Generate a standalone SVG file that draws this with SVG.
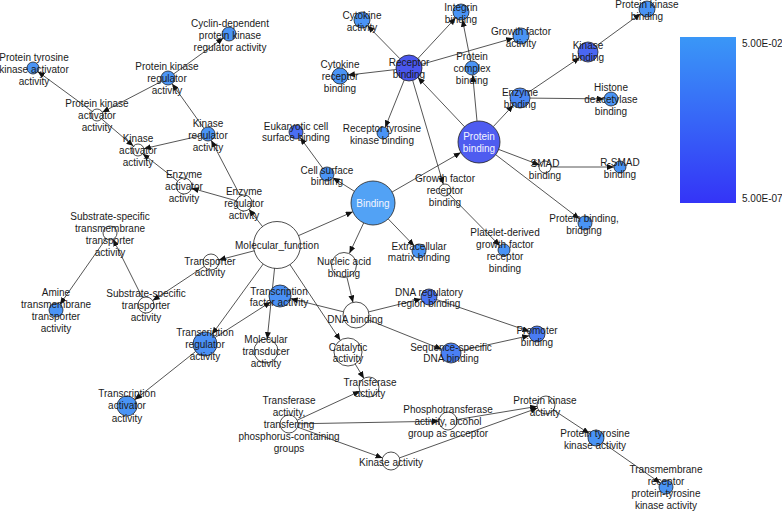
<svg xmlns="http://www.w3.org/2000/svg" width="782" height="511" viewBox="0 0 782 511">
<style>
.e{stroke:#2a2a2a;stroke-width:0.8;fill:none;marker-end:url(#ah)}
.n{stroke:#222;stroke-width:0.8}
.w{fill:#fff}
.l{fill:#4a94f5}
text{font-family:"Liberation Sans",Arial,sans-serif;font-size:10px;fill:#1a1a1a;text-anchor:middle}
.wt{fill:#f4f6ff}
.lg{text-anchor:start}
</style>
<defs>
<marker id="ah" markerUnits="userSpaceOnUse" markerWidth="8" markerHeight="6" refX="7" refY="3" orient="auto">
<path d="M0,0 L7,3 L0,6 z" fill="#111"/>
</marker>
<linearGradient id="grad" x1="0" y1="0" x2="0" y2="1">
<stop offset="0" stop-color="#3a97f7"/>
<stop offset="1" stop-color="#3434f7"/>
</linearGradient>
</defs>
<rect width="782" height="511" fill="#fff"/>
<g id="connectors">
<line class="e" x1="298.1" y1="235.8" x2="352.8" y2="211.8"/>
<line class="e" x1="262.8" y1="226.9" x2="248.9" y2="209.3"/>
<line class="e" x1="254.7" y1="250.7" x2="218.7" y2="260.0"/>
<line class="e" x1="263.5" y1="263.6" x2="212.1" y2="334.3"/>
<line class="e" x1="274.6" y1="267.9" x2="267.2" y2="339.1"/>
<line class="e" x1="289.7" y1="264.2" x2="340.3" y2="340.3"/>
<line class="e" x1="240.3" y1="195.9" x2="211.2" y2="140.2"/>
<line class="e" x1="236.3" y1="200.8" x2="191.7" y2="188.2"/>
<line class="e" x1="203.9" y1="128.3" x2="172.1" y2="83.7"/>
<line class="e" x1="201.2" y1="135.6" x2="143.9" y2="148.7"/>
<line class="e" x1="177.7" y1="181.1" x2="142.7" y2="153.7"/>
<line class="e" x1="173.7" y1="73.9" x2="223.3" y2="38.1"/>
<line class="e" x1="161.8" y1="81.2" x2="102.3" y2="112.2"/>
<line class="e" x1="92.2" y1="111.4" x2="37.8" y2="71.6"/>
<line class="e" x1="101.6" y1="118.9" x2="133.4" y2="146.1"/>
<line class="e" x1="204.3" y1="266.4" x2="152.7" y2="300.6"/>
<line class="e" x1="142.4" y1="297.8" x2="113.1" y2="239.3"/>
<line class="e" x1="106.0" y1="238.7" x2="60.0" y2="304.3"/>
<line class="e" x1="195.6" y1="351.5" x2="134.8" y2="399.8"/>
<line class="e" x1="215.1" y1="337.5" x2="270.7" y2="301.9"/>
<line class="e" x1="343.4" y1="311.8" x2="290.7" y2="298.7"/>
<line class="e" x1="354.4" y1="191.3" x2="332.9" y2="177.7"/>
<line class="e" x1="363.7" y1="222.9" x2="349.5" y2="253.2"/>
<line class="e" x1="388.2" y1="218.9" x2="414.2" y2="245.9"/>
<line class="e" x1="392.1" y1="192.0" x2="460.8" y2="152.5"/>
<line class="e" x1="322.8" y1="168.4" x2="300.2" y2="137.6"/>
<line class="e" x1="347.0" y1="277.6" x2="353.0" y2="302.4"/>
<line class="e" x1="368.6" y1="311.9" x2="421.2" y2="298.9"/>
<line class="e" x1="368.1" y1="319.8" x2="441.7" y2="349.3"/>
<line class="e" x1="436.6" y1="299.6" x2="529.4" y2="331.4"/>
<line class="e" x1="460.8" y1="350.8" x2="529.2" y2="335.7"/>
<line class="e" x1="464.6" y1="126.8" x2="417.9" y2="77.4"/>
<line class="e" x1="477.0" y1="121.1" x2="472.7" y2="75.0"/>
<line class="e" x1="493.3" y1="126.6" x2="513.2" y2="105.3"/>
<line class="e" x1="498.6" y1="149.4" x2="539.4" y2="164.9"/>
<line class="e" x1="495.7" y1="154.7" x2="579.4" y2="218.8"/>
<line class="e" x1="396.1" y1="69.5" x2="347.9" y2="75.1"/>
<line class="e" x1="399.9" y1="58.7" x2="367.6" y2="25.7"/>
<line class="e" x1="417.9" y1="58.5" x2="455.6" y2="17.9"/>
<line class="e" x1="421.5" y1="64.4" x2="513.3" y2="38.2"/>
<line class="e" x1="404.2" y1="80.1" x2="385.2" y2="127.4"/>
<line class="e" x1="412.7" y1="80.5" x2="443.3" y2="184.2"/>
<line class="e" x1="470.6" y1="61.1" x2="462.5" y2="19.8"/>
<line class="e" x1="449.2" y1="194.3" x2="499.8" y2="245.7"/>
<line class="e" x1="528.3" y1="92.4" x2="579.7" y2="57.6"/>
<line class="e" x1="530" y1="98.1" x2="604" y2="98.9"/>
<line class="e" x1="596.1" y1="46.1" x2="640.5" y2="13.7"/>
<line class="e" x1="551" y1="167" x2="614" y2="167"/>
<line class="e" x1="355.2" y1="364.0" x2="363.9" y2="378.4"/>
<line class="e" x1="297.2" y1="420.2" x2="359.9" y2="391.2"/>
<line class="e" x1="298" y1="423.8" x2="439" y2="421.2"/>
<line class="e" x1="297.5" y1="427.1" x2="382.5" y2="457.9"/>
<line class="e" x1="456.9" y1="419.6" x2="537.1" y2="406.4"/>
<line class="e" x1="399.5" y1="457.9" x2="537.5" y2="408.1"/>
<line class="e" x1="553.5" y1="410.0" x2="589.3" y2="433.6"/>
<line class="e" x1="602.6" y1="442.6" x2="660.3" y2="483.0"/>
</g>
<g id="n_ptkaa"><circle class="n l" cx="33" cy="68" r="6"/><text><tspan x="34" y="60.5">Protein tyrosine</tspan><tspan x="34" y="72.5">kinase activator</tspan><tspan x="34" y="84.5">activity</tspan></text></g>
<g id="n_pkra"><circle class="n l" cx="168" cy="78" r="7"/><text><tspan x="167" y="69.5">Protein kinase</tspan><tspan x="167" y="81.5">regulator</tspan><tspan x="167" y="93.5">activity</tspan></text></g>
<g id="n_pkaa"><circle class="n w" cx="97" cy="115" r="6"/><text><tspan x="97" y="106.5">Protein kinase</tspan><tspan x="97" y="118.5">activator</tspan><tspan x="97" y="130.5">activity</tspan></text></g>
<g id="n_kaa"><circle class="n w" cx="138" cy="150" r="6"/><text><tspan x="138" y="141.5">Kinase</tspan><tspan x="138" y="153.5">activator</tspan><tspan x="138" y="165.5">activity</tspan></text></g>
<g id="n_cdpkra"><circle class="n l" cx="229" cy="34" r="7"/><text><tspan x="230" y="26.5">Cyclin-dependent</tspan><tspan x="230" y="38.5">protein kinase</tspan><tspan x="230" y="50.5">regulator activity</tspan></text></g>
<g id="n_kra"><circle class="n l" cx="208" cy="134" r="7"/><text><tspan x="208" y="126.5">Kinase</tspan><tspan x="208" y="138.5">regulator</tspan><tspan x="208" y="150.5">activity</tspan></text></g>
<g id="n_eaa"><circle class="n w" cx="184" cy="186" r="8"/><text><tspan x="184" y="177.5">Enzyme</tspan><tspan x="184" y="189.5">activator</tspan><tspan x="184" y="201.5">activity</tspan></text></g>
<g id="n_era"><circle class="n w" cx="244" cy="203" r="8"/><text><tspan x="244" y="194.5">Enzyme</tspan><tspan x="244" y="206.5">regulator</tspan><tspan x="244" y="218.5">activity</tspan></text></g>
<g id="n_mf"><circle class="n w" cx="277" cy="245" r="23.5"/><text x="277" y="248.5">Molecular_function</text></g>
<g id="n_binding"><circle class="n" cx="373" cy="203" r="22" fill="#52a2f5"/><text class="wt" x="373" y="206.5">Binding</text></g>
<g id="n_csb"><circle class="n l" cx="327" cy="174" r="7"/><text><tspan x="327" y="173.5">Cell surface</tspan><tspan x="327" y="184.5">binding</tspan></text></g>
<g id="n_ecsb"><circle class="n" cx="296" cy="132" r="7" fill="#4a6ef3"/><text><tspan x="296" y="129.5">Eukaryotic cell</tspan><tspan x="296" y="140.5">surface binding</tspan></text></g>
<g id="n_ca"><circle class="n l" cx="362" cy="20" r="8"/><text><tspan x="362" y="18.5">Cytokine</tspan><tspan x="362" y="30.5">activity</tspan></text></g>
<g id="n_crb"><circle class="n l" cx="340" cy="76" r="8"/><text><tspan x="340" y="67.5">Cytokine</tspan><tspan x="340" y="79.5">receptor</tspan><tspan x="340" y="91.5">binding</tspan></text></g>
<g id="n_rb"><circle class="n" cx="409" cy="68" r="13" fill="#4a57ee"/><text><tspan x="409" y="65.5">Receptor</tspan><tspan x="409" y="77.5">binding</tspan></text></g>
<g id="n_ib"><circle class="n l" cx="461" cy="12" r="8"/><text><tspan x="461" y="10.5">Integrin</tspan><tspan x="461" y="22.5">binding</tspan></text></g>
<g id="n_gfa"><circle class="n l" cx="521" cy="36" r="8"/><text><tspan x="521" y="34.5">Growth factor</tspan><tspan x="521" y="46.5">activity</tspan></text></g>
<g id="n_pcb"><circle class="n l" cx="472" cy="68" r="7"/><text><tspan x="472" y="59.5">Protein</tspan><tspan x="472" y="71.5">complex</tspan><tspan x="472" y="83.5">binding</tspan></text></g>
<g id="n_eb"><circle class="n" cx="520" cy="98" r="10" fill="#4a88f5"/><text><tspan x="520" y="95.5">Enzyme</tspan><tspan x="520" y="107.5">binding</tspan></text></g>
<g id="n_pb"><circle class="n" cx="479" cy="142" r="21" fill="#4e5cf0"/><text class="wt"><tspan x="479" y="139.5">Protein</tspan><tspan x="479" y="151.5">binding</tspan></text></g>
<g id="n_kb"><circle class="n" cx="588" cy="52" r="10" fill="#4a66f2"/><text><tspan x="588" y="48.5">Kinase</tspan><tspan x="588" y="60.5">binding</tspan></text></g>
<g id="n_pkb"><circle class="n l" cx="647" cy="9" r="8"/><text><tspan x="647" y="7.5">Protein kinase</tspan><tspan x="647" y="19.5">binding</tspan></text></g>
<g id="n_hdb"><circle class="n l" cx="611" cy="99" r="7"/><text><tspan x="611" y="90.5">Histone</tspan><tspan x="611" y="102.5">deacetylase</tspan><tspan x="611" y="114.5">binding</tspan></text></g>
<g id="n_rsmad"><circle class="n l" cx="620" cy="167" r="6"/><text><tspan x="620" y="165.5">R-SMAD</tspan><tspan x="620" y="177.5">binding</tspan></text></g>
<g id="n_smad"><circle class="n w" cx="545" cy="167" r="6"/><text><tspan x="545" y="166.5">SMAD</tspan><tspan x="545" y="178.5">binding</tspan></text></g>
<g id="n_pbb"><circle class="n l" cx="585" cy="223" r="7"/><text><tspan x="584" y="221.5">Protein binding,</tspan><tspan x="584" y="233.5">bridging</tspan></text></g>
<g id="n_rtkb"><circle class="n l" cx="383" cy="133" r="6"/><text><tspan x="382" y="131.5">Receptor tyrosine</tspan><tspan x="382" y="143.5">kinase binding</tspan></text></g>
<g id="n_gfrb"><circle class="n w" cx="445" cy="190" r="6"/><text><tspan x="445" y="181.5">Growth factor</tspan><tspan x="445" y="193.5">receptor</tspan><tspan x="445" y="205.5">binding</tspan></text></g>
<g id="n_pdgfrb"><circle class="n l" cx="504" cy="250" r="6"/><text><tspan x="505" y="235.5">Platelet-derived</tspan><tspan x="505" y="247.5">growth factor</tspan><tspan x="505" y="259.5">receptor</tspan><tspan x="505" y="271.5">binding</tspan></text></g>
<g id="n_emb"><circle class="n l" cx="419" cy="251" r="7"/><text><tspan x="419" y="249.5">Extracellular</tspan><tspan x="419" y="260.5">matrix binding</tspan></text></g>
<g id="n_nab"><circle class="n w" cx="344" cy="265" r="12.5"/><text><tspan x="344" y="264.5">Nucleic acid</tspan><tspan x="344" y="276.5">binding</tspan></text></g>
<g id="n_dnab"><circle class="n w" cx="356" cy="315" r="13"/><text x="355" y="322.5">DNA binding</text></g>
<g id="n_drrb"><circle class="n" cx="429" cy="297" r="8" fill="#4a74f2"/><text><tspan x="429" y="295.5">DNA regulatory</tspan><tspan x="429" y="306.5">region binding</tspan></text></g>
<g id="n_prom"><circle class="n" cx="537" cy="334" r="8" fill="#4a7cf4"/><text><tspan x="537" y="333.5">Promoter</tspan><tspan x="537" y="345.5">binding</tspan></text></g>
<g id="n_ssdb"><circle class="n" cx="451" cy="353" r="10" fill="#4a80f5"/><text><tspan x="451" y="350.5">Sequence-specific</tspan><tspan x="451" y="361.5">DNA binding</tspan></text></g>
<g id="n_tfa"><circle class="n" cx="280" cy="296" r="11" fill="#4a90f5"/><text><tspan x="279" y="294.5">Transcription</tspan><tspan x="279" y="305.5">factor activity</tspan></text></g>
<g id="n_ta"><circle class="n w" cx="211" cy="262" r="8"/><text><tspan x="210" y="264.5">Transporter</tspan><tspan x="210" y="275.5">activity</tspan></text></g>
<g id="n_ssta"><circle class="n w" cx="146" cy="305" r="8"/><text><tspan x="146" y="296.5">Substrate-specific</tspan><tspan x="146" y="308.5">transporter</tspan><tspan x="146" y="320.5">activity</tspan></text></g>
<g id="n_sstta"><circle class="n w" cx="110" cy="233" r="7"/><text><tspan x="110" y="219.5">Substrate-specific</tspan><tspan x="110" y="231.5">transmembrane</tspan><tspan x="110" y="243.5">transporter</tspan><tspan x="110" y="255.5">activity</tspan></text></g>
<g id="n_atta"><circle class="n l" cx="56" cy="310" r="7"/><text><tspan x="56" y="295.5">Amine</tspan><tspan x="56" y="307.5">transmembrane</tspan><tspan x="56" y="319.5">transporter</tspan><tspan x="56" y="331.5">activity</tspan></text></g>
<g id="n_tra"><circle class="n" cx="205" cy="344" r="12" fill="#4a90f5"/><text><tspan x="205" y="335.5">Transcription</tspan><tspan x="205" y="347.5">regulator</tspan><tspan x="205" y="359.5">activity</tspan></text></g>
<g id="n_taa"><circle class="n l" cx="127" cy="406" r="10"/><text><tspan x="127" y="396.5">Transcription</tspan><tspan x="127" y="409">activator</tspan><tspan x="127" y="421.5">activity</tspan></text></g>
<g id="n_mta"><circle class="n w" cx="266" cy="351" r="12"/><text><tspan x="266" y="342.5">Molecular</tspan><tspan x="266" y="354.5">transducer</tspan><tspan x="266" y="366.5">activity</tspan></text></g>
<g id="n_cat"><circle class="n w" cx="348" cy="352" r="14"/><text><tspan x="348" y="350.5">Catalytic</tspan><tspan x="348" y="361.5">activity</tspan></text></g>
<g id="n_tfr"><circle class="n w" cx="369" cy="387" r="10"/><text><tspan x="370" y="385.5">Transferase</tspan><tspan x="370" y="396.5">activity</tspan></text></g>
<g id="n_tatp"><circle class="n w" cx="289" cy="424" r="9"/><text><tspan x="289" y="403.5">Transferase</tspan><tspan x="289" y="415.5">activity,</tspan><tspan x="289" y="427.5">transferring</tspan><tspan x="289" y="439.5">phosphorus-containing</tspan><tspan x="289" y="451.5">groups</tspan></text></g>
<g id="n_kina"><circle class="n w" cx="391" cy="461" r="9"/><text x="391" y="465.5">Kinase activity</text></g>
<g id="n_ptra"><circle class="n w" cx="448" cy="421" r="9"/><text><tspan x="448" y="412.5">Phosphotransferase</tspan><tspan x="448" y="424.5">activity, alcohol</tspan><tspan x="448" y="436.5">group as acceptor</tspan></text></g>
<g id="n_pka"><circle class="n w" cx="546" cy="405" r="9"/><text><tspan x="545" y="403.5">Protein kinase</tspan><tspan x="545" y="415.5">activity</tspan></text></g>
<g id="n_ptka"><circle class="n l" cx="596" cy="438" r="8"/><text><tspan x="595" y="436.5">Protein tyrosine</tspan><tspan x="595" y="448.5">kinase activity</tspan></text></g>
<g id="n_trptka"><circle class="n l" cx="666" cy="487" r="7"/><text><tspan x="666" y="472.5">Transmembrane</tspan><tspan x="666" y="484.5">receptor</tspan><tspan x="666" y="496.5">protein-tyrosine</tspan><tspan x="666" y="508.5">kinase activity</tspan></text></g>
<g id="legend">
<rect x="680" y="37" width="56" height="166" fill="url(#grad)"/>
<text class="lg" x="742" y="47">5.00E-02</text>
<text class="lg" x="742" y="202">5.00E-07</text>
</g>
</svg>
